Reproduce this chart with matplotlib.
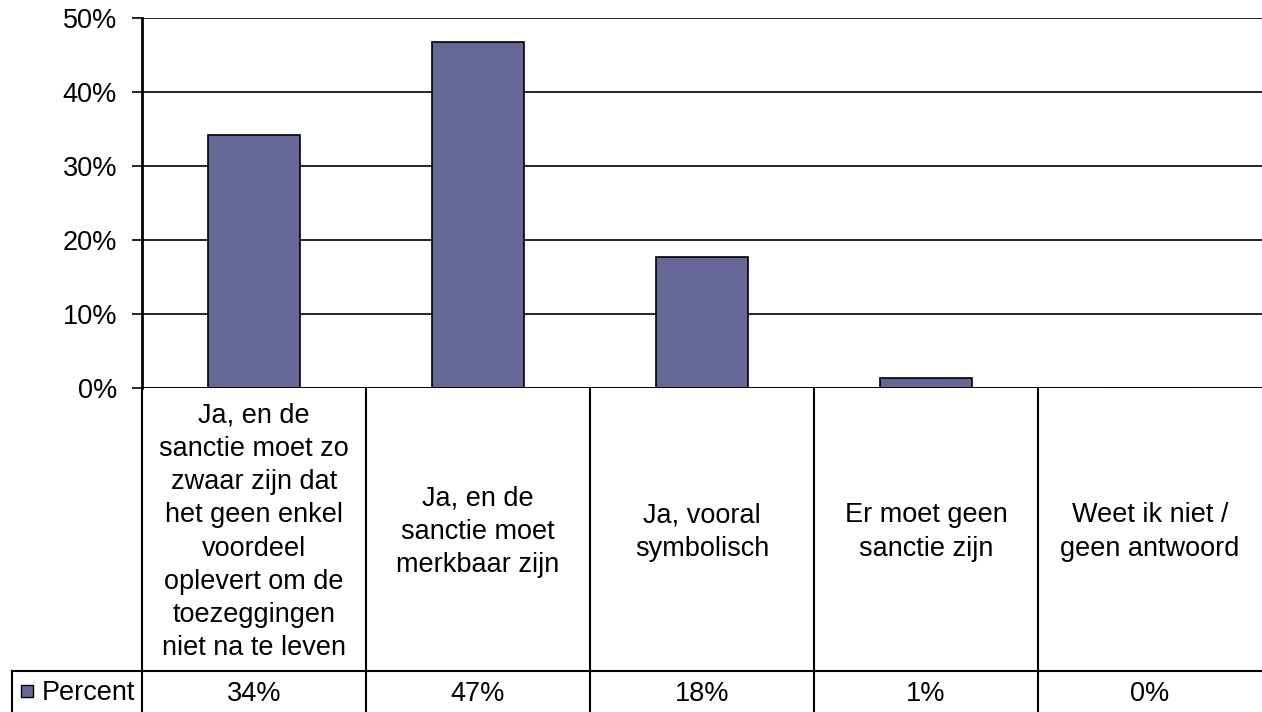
import numpy as np
import matplotlib.pyplot as plt

plt.rcParams['font.family'] = ['Liberation Sans', 'DejaVu Sans']

categories = [
    "Ja, en de\nsanctie moet zo\nzwaar zijn dat\nhet geen enkel\nvoordeel\noplevert om de\ntoezeggingen\nniet na te leven",
    "Ja, en de\nsanctie moet\nmerkbaar zijn",
    "Ja, vooral\nsymbolisch",
    "Er moet geen\nsanctie zijn",
    "Weet ik niet /\ngeen antwoord",
]
values = [34.2, 46.8, 17.7, 1.4, 0.0]
table_labels = ["34%", "47%", "18%", "1%", "0%"]
series_name = "Percent"
yticks = [0, 10, 20, 30, 40, 50]

W, H = 1262, 712
bar_color = "#666699"
fs = 19.5

fig = plt.figure(figsize=(W / 100, H / 100), dpi=100)
ax = fig.add_axes([142 / W, 1 - 388 / H, (W - 142) / W, 370 / H])

x = np.arange(len(values))
ax.bar(x, values, width=0.41, color=bar_color, edgecolor="black", linewidth=1.2, zorder=3)

ax.set_xlim(-0.5, len(values) - 0.5)
ax.set_ylim(0, 50)
ax.set_yticks(yticks)
ax.set_yticklabels([f"{v}%" for v in yticks], fontsize=fs)
ax.set_xticks([])
for v in yticks:
    ax.axhline(v, color="black", lw=1.2, zorder=1)
ax.axhline(0, color="black", lw=2, zorder=4)
for s in ["top", "right", "bottom"]:
    ax.spines[s].set_visible(False)
ax.spines["left"].set_linewidth(2)
ax.tick_params(axis="y", length=7, width=1.2, pad=11)

# data table under the plot, in figure pixels
def fx(px):
    return px / W

def fy(py):
    return 1 - py / H

line_kw = dict(color="black", lw=1.5, transform=fig.transFigure, clip_on=False)
fig.add_artist(plt.Line2D([fx(142), fx(142)], [fy(388), fy(712)], **line_kw))
col_w = (W - 142) / len(values)
for i in range(1, len(values)):
    xp = 142 + i * col_w
    fig.add_artist(plt.Line2D([fx(xp), fx(xp)], [fy(388), fy(712)], **line_kw))
fig.add_artist(plt.Line2D([fx(12), fx(W)], [fy(671), fy(671)], **line_kw))
fig.add_artist(plt.Line2D([fx(12), fx(12)], [fy(671), fy(712)], **line_kw))

for i, (cat, lab) in enumerate(zip(categories, table_labels)):
    xc = 142 + (i + 0.5) * col_w
    fig.text(fx(xc), fy(532), cat, ha="center", va="center", fontsize=fs,
             linespacing=1.36)
    fig.text(fx(xc), fy(694), lab, ha="center", va="center", fontsize=fs)

fig.add_artist(plt.Rectangle((fx(21), fy(697)), 12 / W, 12 / H, facecolor=bar_color,
                             edgecolor="black", lw=1, transform=fig.transFigure))
fig.text(fx(42), fy(693), series_name, ha="left", va="center", fontsize=fs)

fig.savefig("out.png", dpi=100)
